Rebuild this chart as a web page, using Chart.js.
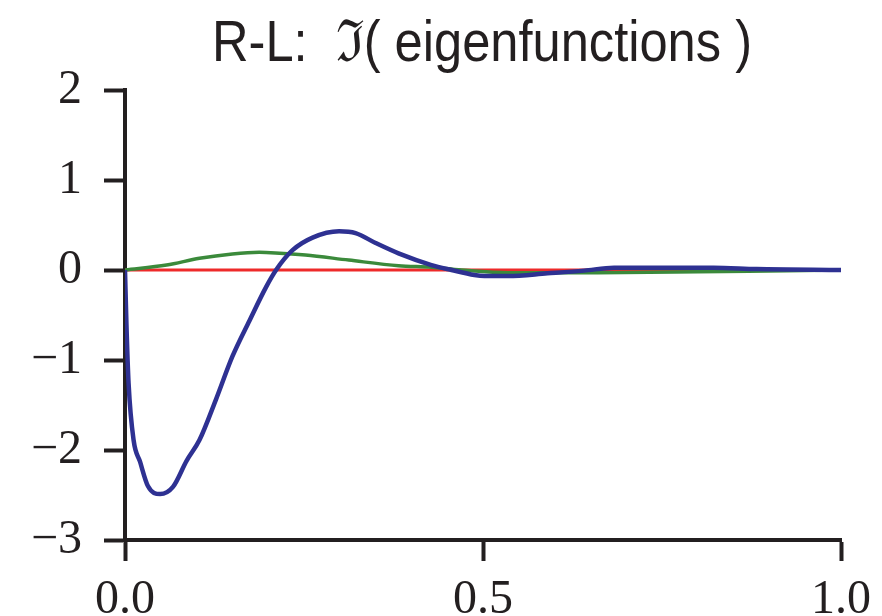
<!DOCTYPE html>
<html>
<head>
<meta charset="utf-8">
<script src="https://cdn.jsdelivr.net/npm/chart.js@4/dist/chart.umd.min.js"></script>
<style>
  html, body { margin: 0; padding: 0; background: #fff; }
  #wrap { width: 882px; height: 616px; }
</style>
</head>
<body>
<div id="wrap"><canvas id="eigChart" width="882" height="616"></canvas></div>
<script>
/* =========================
   DATA
========================= */

const titleText = "R-L:  \u2111( eigenfunctions )";

const xTicks = [0, 0.5, 1.0];
const yTicks = [-3, -2, -1, 0, 1, 2];

const redX = [0, 0.25, 0.5, 0.75, 1.0];
const redY = [0, 0, 0, 0, 0];

const greenX = [0, 0.058, 0.104, 0.15, 0.1875, 0.21, 0.252, 0.3125, 0.382, 0.428, 0.456, 0.47, 0.535, 0.66, 0.8, 0.924, 1.0];
const greenY = [0, 0.055, 0.13, 0.178, 0.196, 0.19, 0.167, 0.11, 0.048, 0.03, 0.01, 0, -0.03, -0.03, -0.02, -0.007, 0];

const blueX = [0, 0.002, 0.005, 0.012, 0.021, 0.032, 0.049, 0.067, 0.086, 0.104, 0.127, 0.15, 0.174, 0.197, 0.211, 0.234, 0.262, 0.299, 0.322, 0.35, 0.382, 0.428, 0.456, 0.488, 0.502, 0.535, 0.59, 0.641, 0.683, 0.822, 0.882, 1.0];
const blueY = [0, -0.6, -1.26, -1.89, -2.13, -2.4, -2.49, -2.41, -2.12, -1.89, -1.44, -0.96, -0.56, -0.19, 0, 0.22, 0.36, 0.43, 0.41, 0.30, 0.185, 0.055, 0, -0.056, -0.067, -0.067, -0.037, -0.007, 0.025, 0.025, 0.01, 0];

/* =========================
   HELPERS
========================= */

const INK = "#231f20";
const serif = "'Liberation Serif', 'DejaVu Serif', serif";
const sans = "'Liberation Sans', Arial, sans-serif";

function toPoints(xs, ys) {
  return xs.map((x, i) => ({ x: x, y: ys[i] }));
}

function minusSign(v) {
  return v < 0 ? "\u2212" + Math.abs(v) : String(v);
}

// title drawn by hand: condensed look by squeezing it to the original width
const titlePlugin = {
  id: "plotTitle",
  afterDraw(chart) {
    const ctx = chart.ctx;
    ctx.save();
    ctx.fillStyle = INK;
    ctx.font = "58px " + sans;
    ctx.textAlign = "center";
    ctx.textBaseline = "alphabetic";
    const w = ctx.measureText(titleText).width;
    const sx = Math.min(1, 540 / w);
    ctx.translate(482, 61);
    ctx.scale(sx, 1);
    ctx.fillText(titleText, 0, 0);
    ctx.restore();
  }
};

/* =========================
   CHART
========================= */

const canvas = document.getElementById("eigChart");

new Chart(canvas, {
  type: "scatter",
  data: {
    datasets: [
      { label: "blue", data: toPoints(blueX, blueY), borderColor: "#2e3192", borderWidth: 4.5, order: 0 },
      { label: "green", data: toPoints(greenX, greenY), borderColor: "#3b8a3b", borderWidth: 3.5, order: 1 },
      { label: "red", data: toPoints(redX, redY), borderColor: "#ee2a2a", borderWidth: 3, order: 2 }
    ].map(d => Object.assign(d, {
      showLine: true,
      pointRadius: 0,
      pointHoverRadius: 0,
      cubicInterpolationMode: "monotone",
      fill: false
    }))
  },
  options: {
    responsive: false,
    animation: false,
    events: [],
    layout: { padding: { top: 90, right: 37, left: 0, bottom: 0 } },
    plugins: {
      legend: { display: false },
      title: { display: false },
      tooltip: { enabled: false }
    },
    scales: {
      x: {
        type: "linear",
        min: 0,
        max: 1,
        afterBuildTicks: axis => { axis.ticks = xTicks.map(v => ({ value: v })); },
        afterFit: axis => { axis.height = 76; },
        border: { display: true, color: INK, width: 4 },
        grid: { drawOnChartArea: false, drawTicks: true, tickLength: 21, tickWidth: 4, tickColor: INK },
        ticks: {
          color: INK,
          font: { family: serif, size: 48 },
          padding: 11,
          maxRotation: 0,
          callback: v => Number(v).toFixed(1)
        }
      },
      y: {
        type: "linear",
        min: -3,
        max: 2,
        afterBuildTicks: axis => { axis.ticks = yTicks.map(v => ({ value: v })); },
        afterFit: axis => { axis.width = 125; },
        border: { display: true, color: INK, width: 4 },
        grid: { drawOnChartArea: false, drawTicks: true, tickLength: 21, tickWidth: 4, tickColor: INK },
        ticks: {
          color: INK,
          font: { family: serif, size: 48 },
          padding: 22,
          callback: v => minusSign(v)
        }
      }
    }
  },
  plugins: [titlePlugin]
});
</script>
</body>
</html>
